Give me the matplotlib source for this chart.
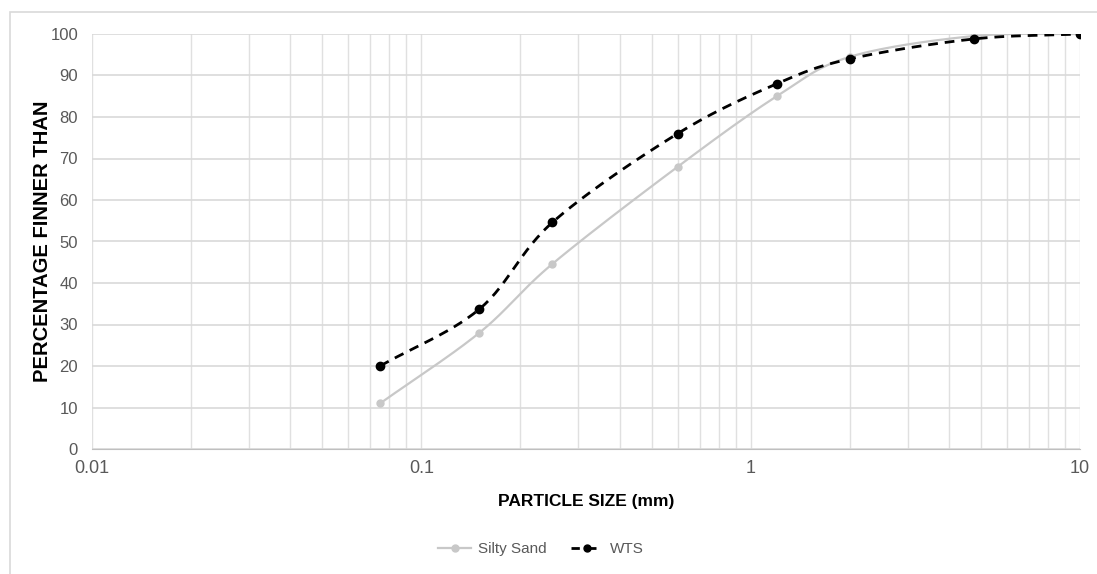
import numpy as np
import matplotlib
matplotlib.use("Agg")
import matplotlib.pyplot as plt
from matplotlib.patches import Rectangle
from matplotlib.ticker import FixedLocator, NullFormatter

plt.rcParams['font.family'] = ['Liberation Sans', 'DejaVu Sans']

# sieve sizes (mm) and percentage passing
sizes = [0.075, 0.15, 0.25, 0.6, 1.2, 2.0, 4.75, 10.0]
silty_sand = [11, 28, 44.6, 68, 85, 94.5, 99.5, 100]
wts = [20, 33.7, 54.6, 76, 88, 94, 98.8, 100]

x_ticks = [0.01, 0.1, 1, 10]
x_tick_labels = ['0.01', '0.1', '1', '10']
y_ticks = list(range(0, 101, 10))


def smooth(xs, ys, n=30):
    # catmull-rom through points in log-x space, like excel smoothed lines
    lx = np.log10(xs)
    ys = np.asarray(ys, dtype=float)
    px = np.concatenate([[2 * lx[0] - lx[1]], lx, [2 * lx[-1] - lx[-2]]])
    py = np.concatenate([[2 * ys[0] - ys[1]], ys, [2 * ys[-1] - ys[-2]]])
    outx, outy = [], []
    for i in range(1, len(px) - 2):
        t = np.linspace(0, 1, n)
        for arr, out in ((px, outx), (py, outy)):
            p0, p1, p2, p3 = arr[i - 1], arr[i], arr[i + 1], arr[i + 2]
            out.extend(0.5 * (2 * p1 + (-p0 + p2) * t
                              + (2 * p0 - 5 * p1 + 4 * p2 - p3) * t ** 2
                              + (-p0 + 3 * p1 - 3 * p2 + p3) * t ** 3))
    return 10 ** np.array(outx), np.array(outy)


fig = plt.figure(figsize=(10.97, 5.74), dpi=100)
ax = fig.add_axes([92 / 1097, 1 - 449 / 574, (1080 - 92) / 1097, (449 - 34) / 574])

fig.patches.append(Rectangle((10 / 1097, -5 / 574), 1100 / 1097, 567 / 574,
                             transform=fig.transFigure, fill=False,
                             edgecolor='#d9d9d9', linewidth=1.2))

grid_c = '#e0e0e0'
ax.set_xscale('log')
ax.set_xlim(0.01, 10)
ax.set_ylim(0, 100)
ax.xaxis.set_major_locator(FixedLocator(x_ticks))
ax.set_xticklabels(x_tick_labels)
ax.xaxis.set_minor_formatter(NullFormatter())
ax.set_yticks(y_ticks)
ax.grid(True, which='major', axis='y', color='#d9d9d9', linewidth=1.2)
ax.grid(True, which='major', axis='x', color=grid_c, linewidth=1.0)
ax.grid(True, which='minor', axis='x', color=grid_c, linewidth=1.0)
ax.set_axisbelow(True)
for s in ax.spines.values():
    s.set_visible(False)
ax.spines['bottom'].set_visible(True)
ax.spines['bottom'].set_color('#bfbfbf')
ax.tick_params(axis='both', which='both', length=0, colors='#595959')
ax.tick_params(axis='x', labelsize=13, pad=8)
ax.tick_params(axis='y', labelsize=12, pad=10)

sx, sy = smooth(sizes, silty_sand)
ax.plot(sx, sy, color='#c8c8c8', linewidth=1.6, zorder=3)
ax.plot(sizes, silty_sand, linestyle='none', marker='o', markersize=5,
        color='#c8c8c8', zorder=3)
wx, wy = smooth(sizes, wts)
ax.plot(wx, wy, color='black', linewidth=2, linestyle=(0, (3.5, 2.5)), zorder=4)
ax.plot(sizes, wts, linestyle='none', marker='o', markersize=6,
        color='black', zorder=4)

ax.set_xlabel('PARTICLE SIZE (mm)', fontsize=12.5, fontweight='bold', labelpad=12)
ax.set_ylabel('PERCENTAGE FINNER THAN', fontsize=14.5, fontweight='bold')
ax.yaxis.set_label_coords(-0.040, 0.5)

# legend handles
h1, = ax.plot([], [], color='#c8c8c8', linewidth=1.6, marker='o', markersize=5)
h2, = ax.plot([], [], color='black', linewidth=2, linestyle=(0, (3, 3)),
              marker='o', markersize=5)
fig.legend([h1, h2], ['Silty Sand', 'WTS'], loc='center',
           bbox_to_anchor=(541 / 1097, 1 - 549 / 574), ncol=2, frameon=False,
           fontsize=11, labelcolor='#595959', handlelength=2.2,
           columnspacing=1.6, handletextpad=0.4)

fig.savefig('out.png', dpi=100)
